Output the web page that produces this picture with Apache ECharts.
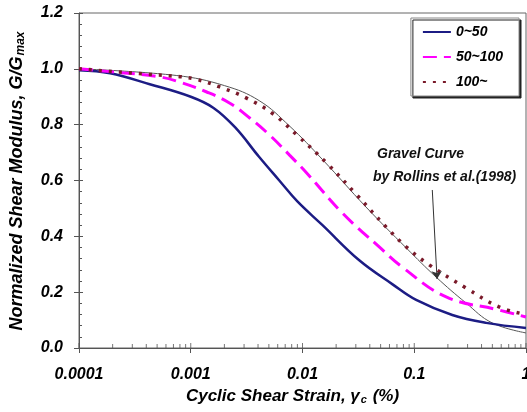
<!DOCTYPE html>
<html>
<head>
<meta charset="utf-8">
<script src="https://cdn.jsdelivr.net/npm/echarts@6/dist/echarts.min.js"></script>
<style>
html,body{margin:0;padding:0;background:#fff;}
#chart{width:527px;height:412px;}
</style>
</head>
<body>
<div id="chart"></div>
<script>
// ---- data ----
const seriesNames = ['0~50', '50~100', '100~'];

const strain0to50 = [0.0001, 0.00019, 0.00043, 0.001, 0.0016, 0.0025, 0.0041, 0.0062, 0.009, 0.0151, 0.032, 0.064, 0.104, 0.219, 0.44, 1];
const ratio0to50  = [0.995, 0.984, 0.945, 0.90, 0.86, 0.79, 0.684, 0.60, 0.525, 0.440, 0.315, 0.228, 0.172, 0.118, 0.090, 0.072];

const strain50to100 = [0.0001, 0.00019, 0.00053, 0.0008, 0.00139, 0.00224, 0.00337, 0.00507, 0.00766, 0.0109, 0.0228, 0.0486, 0.078, 0.193, 0.574, 1];
const ratio50to100  = [1.0, 0.99, 0.971, 0.952, 0.917, 0.877, 0.824, 0.763, 0.691, 0.627, 0.483, 0.362, 0.29, 0.183, 0.136, 0.111];

const strain100up = [0.0001, 0.00043, 0.0008, 0.00113, 0.00182, 0.00316, 0.0054, 0.0088, 0.0164, 0.0303, 0.0562, 0.085, 0.136, 0.291, 0.574, 1];
const ratio100up  = [1.0, 0.98, 0.972, 0.962, 0.935, 0.895, 0.84, 0.765, 0.663, 0.55, 0.433, 0.362, 0.298, 0.215, 0.147, 0.12];

const strainGravel = [0.0001, 0.00075, 0.002, 0.0041, 0.00766, 0.0151, 0.037, 0.085, 0.157, 0.291, 0.497, 1];
const ratioGravel  = [1.0, 0.976, 0.94, 0.886, 0.795, 0.675, 0.505, 0.358, 0.254, 0.161, 0.09, 0.054];

const xTickLabels = ['0.0001', '0.001', '0.01', '0.1', '1'];
const xMajorTicks = [0.0001, 0.001, 0.01, 0.1, 1];
const xMinorTicks = [0.0002,0.0003,0.0004,0.0005,0.0006,0.0007,0.0008,0.0009,
                     0.002,0.003,0.004,0.005,0.006,0.007,0.008,0.009,
                     0.02,0.03,0.04,0.05,0.06,0.07,0.08,0.09,
                     0.2,0.3,0.4,0.5,0.6,0.7,0.8,0.9];

const annotationLines = ['Gravel Curve', 'by Rollins et al.(1998)'];
const arrowFrom = [0.145, 0.566];
const arrowTo = [0.16, 0.247];

// ---- chart ----
const FONT = 'Liberation Sans, Arial, sans-serif';
const pairs = (xs, ys) => xs.map((x, i) => [x, ys[i]]);

const chart = echarts.init(document.getElementById('chart'), null, {renderer: 'canvas'});

function nameRich(size) {
  return {
    a: {fontFamily: FONT, fontStyle: 'italic', fontWeight: 'bold', fontSize: size, color: '#000'},
    sub: {fontFamily: FONT, fontStyle: 'italic', fontWeight: 'bold', fontSize: Math.round(size * 0.66), color: '#000', padding: [8, 1, 0, 1]}
  };
}

const option = {
  animation: false,
  backgroundColor: '#fff',
  grid: {left: 79, right: 1, top: 13, bottom: 64, show: true, borderColor: '#666', borderWidth: 1,
         backgroundColor: 'transparent', containLabel: false, outerBoundsMode: 'none'},
  legend: {
    data: seriesNames,
    orient: 'vertical',
    right: 8,
    top: 18,
    itemWidth: 28,
    itemHeight: 14,
    itemGap: 11,
    padding: [7, 16, 7, 11],
    backgroundColor: '#fff',
    borderColor: '#888',
    borderWidth: 1,
    shadowColor: '#222',
    shadowOffsetX: 2,
    shadowOffsetY: 2,
    shadowBlur: 0,
    itemStyle: {opacity: 0},
    textStyle: {fontFamily: FONT, fontStyle: 'italic', fontWeight: 'bold', fontSize: 14, color: '#000'}
  },
  xAxis: {
    type: 'log',
    logBase: 10,
    min: 0.0001,
    max: 1,
    name: '{a|Cyclic Shear Strain, γ}{sub|c}{a| (%)}',
    nameLocation: 'middle',
    nameGap: 35,
    nameTextStyle: {rich: nameRich(17), padding: [0, 20, 0, 0]},
    axisLine: {show: true, lineStyle: {color: '#555', width: 1}},
    axisTick: {show: true, inside: false, length: 5, lineStyle: {color: '#555'}},
    minorTick: {show: false},
    splitLine: {show: false},
    axisLabel: {
      margin: 19,
      fontFamily: FONT, fontStyle: 'italic', fontWeight: 'bold', fontSize: 16, color: '#000',
      formatter: function (v) { const e = Math.round(Math.log10(v)); return xTickLabels[e + 4]; }
    }
  },
  yAxis: [{
    type: 'value',
    min: 0, max: 1.2, interval: 0.2,
    name: '{a|Normalized Shear Modulus, G/G}{sub|max}',
    nameLocation: 'middle',
    nameGap: 52,
    nameTextStyle: {rich: nameRich(18)},
    axisLine: {show: true, lineStyle: {color: '#555', width: 1}},
    axisTick: {show: true, inside: true, length: 4, lineStyle: {color: '#555'}},
    minorTick: {show: true, splitNumber: 5, length: 3, lineStyle: {color: '#555'}},
    splitLine: {show: false},
    axisLabel: {
      margin: 16,
      fontFamily: FONT, fontStyle: 'italic', fontWeight: 'bold', fontSize: 16, color: '#000',
      formatter: function (v) { return v.toFixed(1); }
    }
  }, {
    type: 'value',
    position: 'left',
    min: 0, max: 1.2, interval: 0.2,
    axisLine: {show: false},
    axisTick: {show: true, inside: false, length: 5, lineStyle: {color: '#555'}},
    axisLabel: {show: false},
    splitLine: {show: false}
  }],
  graphic: [
    {type: 'text', left: 377, top: 147, style: {text: annotationLines[0], font: 'italic bold 14px ' + FONT, fill: '#111'}},
    {type: 'text', left: 373, top: 170, style: {text: annotationLines[1], font: 'italic bold 14px ' + FONT, fill: '#111'}}
  ],
  series: [
    {
      name: seriesNames[0], type: 'line', data: pairs(strain0to50, ratio0to50),
      smooth: 0.4, symbol: 'none', z: 4,
      lineStyle: {color: '#1c1c84', width: 2.5, type: 'solid'},
      itemStyle: {color: '#1c1c84'}
    },
    {
      name: seriesNames[1], type: 'line', data: pairs(strain50to100, ratio50to100),
      smooth: 0.4, symbol: 'none', z: 4,
      lineStyle: {color: '#ff00ff', width: 3, type: [14, 7]},
      itemStyle: {color: '#ff00ff'}
    },
    {
      name: seriesNames[2], type: 'line', data: pairs(strain100up, ratio100up),
      smooth: 0.4, symbol: 'none', z: 4,
      lineStyle: {color: '#7a1a2a', width: 3.5, type: [3, 7]},
      itemStyle: {color: '#7a1a2a'}
    },
    {
      name: 'Gravel', type: 'line', data: pairs(strainGravel, ratioGravel),
      smooth: 0.4, symbol: 'none', z: 3,
      lineStyle: {color: '#555', width: 1},
      itemStyle: {color: '#555'},
      markLine: {
        silent: true,
        symbol: ['none', 'arrow'],
        symbolSize: 8,
        label: {show: false},
        lineStyle: {color: '#333', width: 1, type: 'solid'},
        data: [[{coord: arrowFrom}, {coord: arrowTo}]]
      }
    },
    {
      name: 'minorTicks', type: 'scatter', silent: true, clip: false,
      data: xMinorTicks.map(x => [x, 0]),
      symbol: 'rect', symbolSize: [1, 4], symbolOffset: [0, -2],
      itemStyle: {color: '#555'}, z: 5
    },
    {
      name: 'majorTicksIn', type: 'scatter', silent: true, clip: false,
      data: xMajorTicks.map(x => [x, 0]),
      symbol: 'rect', symbolSize: [1, 5], symbolOffset: [0, -2.5],
      itemStyle: {color: '#555'}, z: 5
    }
  ]
};
chart.setOption(option);
</script>
</body>
</html>
